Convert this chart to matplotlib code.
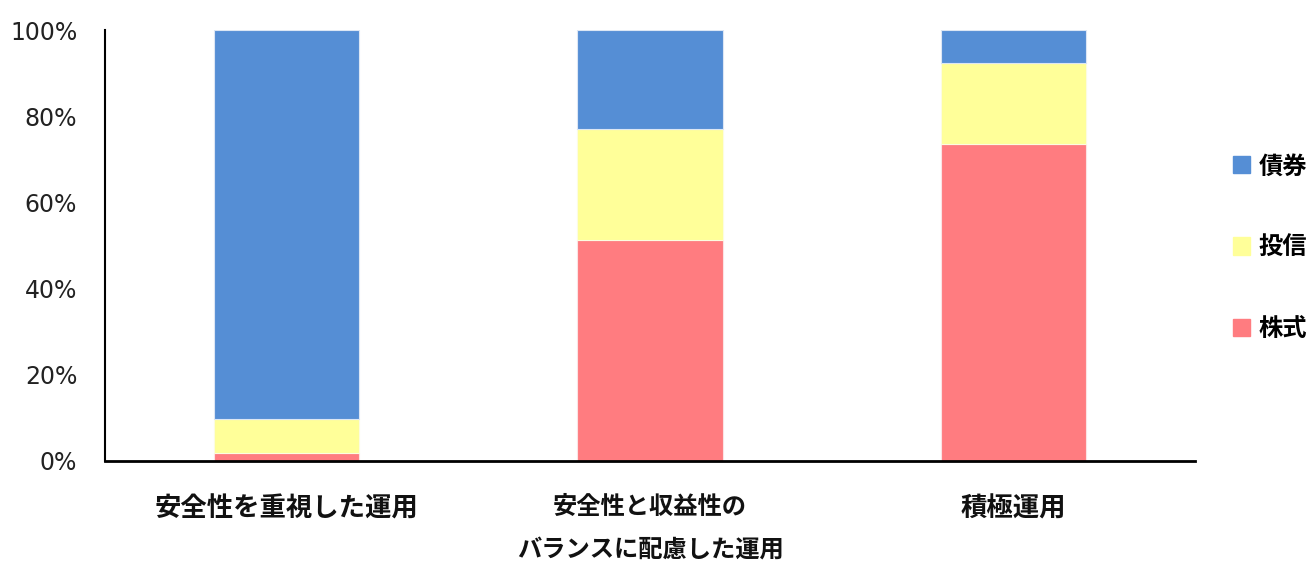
"""
Asset allocation by investment style (stacked 100% bars)
"""
import matplotlib
matplotlib.use('Agg')
import matplotlib.pyplot as plt
from matplotlib.patches import Patch
from matplotlib.ticker import FuncFormatter

plt.rcParams['font.family'] = ['DejaVu Sans', 'Noto Sans CJK JP']

# Data (% of portfolio)
categories = ['安全性を重視した運用', '安全性と収益性の\nバランスに配慮した運用', '積極運用']
stocks = [1.8, 51.2, 73.5]     # 株式
funds = [7.8, 25.8, 19.0]      # 投信
bonds = [90.4, 23.0, 7.5]      # 債券
yticks = [0, 20, 40, 60, 80, 100]

colors = {'株式': '#FF7C80', '投信': '#FFFF99', '債券': '#558ED5'}

W, H = 1306, 561
fig = plt.figure(figsize=(W / 100, H / 100), dpi=100)
ax = fig.add_axes([105 / W, 1 - 460.5 / H, (1195 - 105) / W, (460.5 - 30.3) / H])

x = list(range(len(categories)))
width = 0.4
bottom2 = [s + f for s, f in zip(stocks, funds)]
ax.bar(x, stocks, width, color=colors['株式'], edgecolor='#FBE3E4', linewidth=0.8)
ax.bar(x, funds, width, bottom=stocks, color=colors['投信'], edgecolor='#FCFCE0', linewidth=0.8)
ax.bar(x, bonds, width, bottom=bottom2, color=colors['債券'], edgecolor='#DCE6F4', linewidth=0.8)

ax.set_xlim(-0.5, 2.5)
ax.set_ylim(0, 100)
ax.set_yticks(yticks)
ax.yaxis.set_major_formatter(FuncFormatter(lambda v, p: f'{int(v)}%'))
ax.tick_params(axis='y', length=0, pad=20, labelsize=17, labelcolor='#222222')
ax.tick_params(axis='x', length=0, pad=25)

ax.set_xticks(x)
ax.set_xticklabels(categories)
for i, lab in enumerate(ax.get_xticklabels()):
    lab.set_family(['Noto Sans CJK JP', 'DejaVu Sans'])
    lab.set_weight('bold')
    lab.set_fontsize(17.5 if i == 1 else 19)
    lab.set_linespacing(1.95)
    lab.set_color('#111111')

for side in ['top', 'right']:
    ax.spines[side].set_visible(False)
ax.spines['left'].set_linewidth(1.5)
ax.spines['bottom'].set_linewidth(2)

handles = [Patch(color=colors[k]) for k in ['債券', '投信', '株式']]
leg = fig.legend(handles, ['債券', '投信', '株式'], loc='center left',
                 bbox_to_anchor=(1233 / W, 1 - 247.5 / H), frameon=False,
                 borderpad=0, borderaxespad=0, handlelength=0.7, handleheight=0.7,
                 handletextpad=0.35, labelspacing=2.35,
                 prop={'family': ['Noto Sans CJK JP', 'DejaVu Sans'], 'weight': 'bold', 'size': 17.5})

fig.savefig('out.png', dpi=100)
